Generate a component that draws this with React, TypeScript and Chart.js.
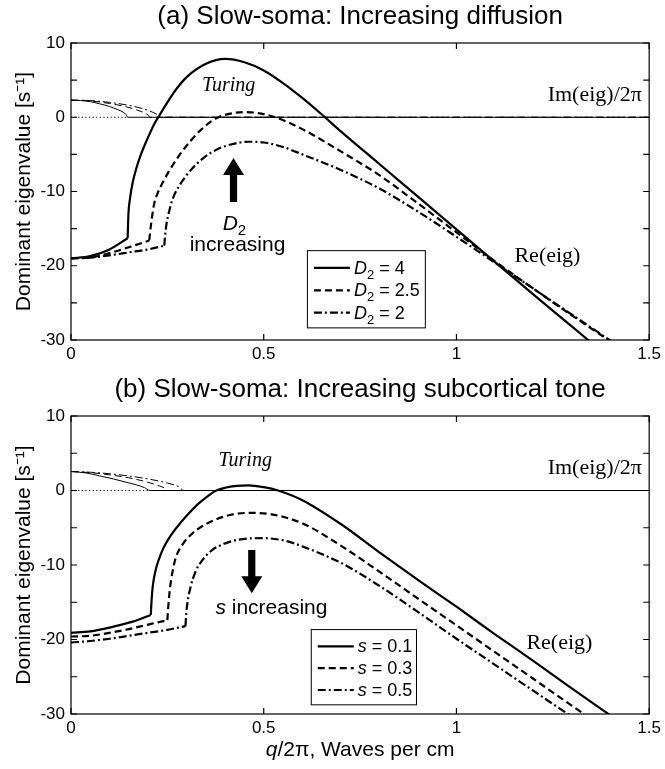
import React, { useEffect, useRef } from "react";
import { Chart, registerables } from "chart.js";
Chart.register(...registerables);

const SANS = '"Liberation Sans", Arial, Helvetica, sans-serif';
const SERIF = '"Liberation Serif", "Times New Roman", serif';

// ---------------- Panel (a): increasing diffusion ----------------
const titleA = "(a) Slow-soma: Increasing diffusion";
const legendValsA = ["4", "2.5", "2"]; // D2 values

const reA1_q = [0, 0.05, 0.1, 0.147, 0.149, 0.153, 0.16, 0.17, 0.18, 0.19, 0.2, 0.215, 0.23, 0.25, 0.272, 0.3, 0.35, 0.4, 0.45, 0.5, 0.55, 0.6, 0.65, 0.7, 0.8, 0.9, 1.0, 1.1, 1.2, 1.3, 1.36];
const reA1_v = [-19.0, -18.7, -17.8, -16.3, -13.0, -11.0, -8.8, -6.8, -5.2, -3.9, -2.7, -1.0, 0.3, 2.0, 3.7, 5.4, 7.2, 7.85, 7.4, 6.3, 4.6, 2.6, 0.4, -1.9, -6.3, -10.7, -15.1, -19.5, -23.9, -28.2, -30.8];

const reA2_q = [0, 0.05, 0.1, 0.15, 0.203, 0.205, 0.21, 0.216, 0.225, 0.237, 0.255, 0.28, 0.31, 0.335, 0.36, 0.383, 0.41, 0.447, 0.48, 0.53, 0.6, 0.7, 0.8, 0.9, 1.0, 1.1, 1.2, 1.3, 1.4];
const reA2_v = [-19.0, -18.9, -18.3, -17.5, -16.6, -15.6, -13.5, -11.6, -10.2, -8.9, -7.2, -5.2, -3.2, -1.8, -0.7, 0.0, 0.45, 0.7, 0.6, 0.0, -1.6, -4.6, -7.8, -11.6, -15.5, -19.4, -23.1, -26.7, -30.2];

const reA3_q = [0, 0.05, 0.1, 0.15, 0.2, 0.242, 0.244, 0.248, 0.255, 0.263, 0.28, 0.297, 0.32, 0.348, 0.38, 0.42, 0.46, 0.5, 0.55, 0.6, 0.7, 0.8, 0.9, 1.0, 1.1, 1.2, 1.3, 1.4];
const reA3_v = [-19.0, -18.9, -18.6, -18.2, -17.8, -17.3, -16.0, -14.3, -12.6, -11.1, -9.3, -8.0, -6.6, -5.3, -4.3, -3.6, -3.3, -3.4, -4.0, -5.0, -7.1, -9.6, -12.7, -16.1, -19.6, -23.1, -26.6, -30.1];

// q where each Re(eig) branch switches (kink)
const cornerA = [0.147, 0.203, 0.242];

const imA1_q = [0, 0.025, 0.05, 0.075, 0.1, 0.12, 0.135, 0.143, 0.147, 1.5];
const imA1_v = [2.3, 2.25, 2.1, 1.8, 1.45, 1.05, 0.7, 0.35, 0, 0];
const imA2_q = [0, 0.05, 0.1, 0.14, 0.17, 0.19, 0.2, 0.205, 1.5];
const imA2_v = [2.3, 2.2, 1.85, 1.45, 1.0, 0.6, 0.3, 0, 0];
const imA3_q = [0, 0.05, 0.1, 0.15, 0.19, 0.215, 0.228, 0.232, 1.5];
const imA3_v = [2.3, 2.25, 2.0, 1.6, 1.1, 0.6, 0.2, 0, 0];
const dottedA_q = [0, 0.147];

// ---------------- Panel (b): increasing subcortical tone ----------------
const titleB = "(b) Slow-soma: Increasing subcortical tone";
const legendValsB = ["0.1", "0.3", "0.5"]; // s values

const reB1_q = [0, 0.05, 0.1, 0.16, 0.207, 0.209, 0.212, 0.22, 0.229, 0.24, 0.252, 0.265, 0.28, 0.3, 0.33, 0.355, 0.375, 0.4, 0.43, 0.46, 0.5, 0.537, 0.6, 0.7, 0.8, 0.9, 1.0, 1.1, 1.2, 1.3, 1.4];
const reB1_v = [-19.1, -18.9, -18.4, -17.6, -16.7, -14.8, -12.9, -10.6, -9.1, -7.7, -6.6, -5.6, -4.6, -3.4, -1.8, -0.75, -0.05, 0.37, 0.62, 0.7, 0.45, 0.0, -1.3, -4.5, -8.3, -12.0, -15.6, -19.3, -22.9, -26.6, -30.2];

const reB2_q = [0, 0.05, 0.1, 0.15, 0.2, 0.25, 0.252, 0.256, 0.263, 0.272, 0.29, 0.314, 0.34, 0.375, 0.42, 0.469, 0.52, 0.6, 0.7, 0.8, 0.9, 1.0, 1.1, 1.2, 1.3, 1.35];
const reB2_v = [-19.6, -19.5, -19.1, -18.6, -18.0, -17.4, -15.8, -13.5, -11.0, -9.0, -7.2, -5.8, -4.8, -3.9, -3.2, -3.0, -3.2, -4.4, -7.4, -10.9, -14.5, -18.1, -21.7, -25.3, -28.9, -30.7];

const reB3_q = [0, 0.05, 0.1, 0.15, 0.2, 0.25, 0.297, 0.299, 0.302, 0.31, 0.323, 0.34, 0.366, 0.4, 0.434, 0.5, 0.56, 0.6, 0.7, 0.8, 0.9, 1.0, 1.1, 1.2, 1.3];
const reB3_v = [-20.4, -20.2, -19.9, -19.5, -19.1, -18.7, -18.2, -16.5, -15.1, -13.0, -10.9, -9.4, -8.0, -7.1, -6.6, -6.4, -6.8, -7.5, -9.7, -12.8, -16.3, -19.9, -23.4, -26.9, -30.4];

const cornerB = [0.207, 0.25, 0.297];

const imB1_q = [0, 0.04, 0.075, 0.11, 0.14, 0.17, 0.19, 0.205, 1.5];
const imB1_v = [2.55, 2.35, 1.95, 1.55, 1.15, 0.75, 0.4, 0, 0];
const imB2_q = [0, 0.05, 0.1, 0.15, 0.2, 0.23, 0.245, 0.25, 1.5];
const imB2_v = [2.55, 2.4, 2.1, 1.7, 1.1, 0.6, 0.25, 0, 0];
const imB3_q = [0, 0.05, 0.1, 0.15, 0.2, 0.25, 0.28, 0.293, 1.5];
const imB3_v = [2.55, 2.45, 2.25, 1.95, 1.55, 1.0, 0.5, 0, 0];
const dottedB_q = [0, 0.205];

// axis
const xMin = 0, xMax = 1.5, xStep = 0.5;
const yMin = -30, yMax = 10, yStep = 5, yLabelStep = 10;
const yTitle = "Dominant eigenvalue [s\u207B\u00B9]";

// ---------------- styles ----------------
const DASHES = [[], [7, 4], [8, 3, 2, 3]];

function pts(q: number[], v: number[]) {
  return q.map((x, i) => ({ x, y: v[i] }));
}

function buildDatasets(re: [number[], number[]][], corners: number[], im: [number[], number[]][], dotted: number[]) {
  const ds: any[] = [];
  re.forEach(([q, v], i) => {
    const all = pts(q, v);
    const k = q.findIndex((x) => x >= corners[i] - 1e-9);
    const parts = [all.slice(0, k + 1), all.slice(k)];
    parts.forEach((data) => ds.push({
      data, borderColor: "#000", borderWidth: 2.2, borderDash: DASHES[i],
      pointRadius: 0, cubicInterpolationMode: "monotone", fill: false,
    }));
  });
  im.forEach(([q, v], i) => ds.push({
    data: pts(q, v), borderColor: "#000", borderWidth: 1, borderDash: DASHES[i],
    pointRadius: 0, cubicInterpolationMode: "monotone", fill: false,
  }));
  ds.push({
    data: pts(dotted, dotted.map(() => 0)), borderColor: "#000", borderWidth: 1,
    borderDash: [1.2, 2.4], pointRadius: 0, fill: false,
  });
  return ds;
}

type Decor = {
  title: string;
  titleY: number;
  legendVals: string[];
  legendSym: string;
  legendSub: boolean;
  legendBox: [number, number, number, number]; // q0,q1,v0,v1
  turing: [number, number];
  imLabel: [number, number];
  reLabel: [number, number];
  arrow: [number, number, number];
  arrowText: "D" | "s";
  arrowTextPos: [number, number];
  arrowTextPos2?: [number, number];
  xTitleY?: number;
};

function runsWidth(ctx: CanvasRenderingContext2D, runs: { t: string; f: string; dy: number }[]) {
  let w = 0;
  runs.forEach((r) => { ctx.font = r.f; w += ctx.measureText(r.t).width; });
  return w;
}
function drawRuns(ctx: CanvasRenderingContext2D, x: number, y: number, runs: { t: string; f: string; dy: number }[]) {
  let cx = x;
  runs.forEach((r) => {
    ctx.font = r.f;
    ctx.fillText(r.t, cx, y + r.dy);
    cx += ctx.measureText(r.t).width;
  });
}

function drawArrow(ctx: CanvasRenderingContext2D, x: number, yTail: number, yTip: number) {
  const dir = yTip < yTail ? -1 : 1;
  const headLen = 17, headW = 10.5, shaftW = 3.6;
  const yBase = yTip - dir * headLen;
  ctx.beginPath();
  ctx.moveTo(x - shaftW, yTail);
  ctx.lineTo(x - shaftW, yBase);
  ctx.lineTo(x - headW, yBase);
  ctx.lineTo(x, yTip);
  ctx.lineTo(x + headW, yBase);
  ctx.lineTo(x + shaftW, yBase);
  ctx.lineTo(x + shaftW, yTail);
  ctx.closePath();
  ctx.fill();
}

function makeDecor(d: Decor) {
  return {
    id: "decor",
    afterDatasetsDraw(chart: any) {
      const { ctx, chartArea: a, scales } = chart;
      const X = (v: number) => scales.x.getPixelForValue(v);
      const Y = (v: number) => scales.y.getPixelForValue(v);
      ctx.save();
      ctx.fillStyle = "#000";
      ctx.strokeStyle = "#000";
      // frame
      ctx.lineWidth = 1.2;
      ctx.setLineDash([]);
      ctx.strokeRect(a.left, a.top, a.right - a.left, a.bottom - a.top);
      const L = 6;
      ctx.beginPath();
      scales.y.ticks.forEach((t: any) => {
        const py = Y(t.value);
        ctx.moveTo(a.left, py); ctx.lineTo(a.left + L, py);
        ctx.moveTo(a.right, py); ctx.lineTo(a.right - L, py);
      });
      scales.x.ticks.forEach((t: any) => {
        const px = X(t.value);
        ctx.moveTo(px, a.bottom); ctx.lineTo(px, a.bottom - L);
        ctx.moveTo(px, a.top); ctx.lineTo(px, a.top + L);
      });
      ctx.stroke();

      // title
      ctx.textAlign = "center";
      ctx.textBaseline = "middle";
      ctx.font = `26px ${SANS}`;
      ctx.fillText(d.title, (a.left + a.right) / 2, d.titleY);

      // serif labels
      ctx.font = `italic 20px ${SERIF}`;
      ctx.fillText("Turing", X(d.turing[0]), Y(d.turing[1]));
      ctx.font = `22px ${SERIF}`;
      ctx.textAlign = "right";
      ctx.fillText("Im(eig)/2\u03C0", X(d.imLabel[0]), Y(d.imLabel[1]));
      ctx.textAlign = "center";
      ctx.fillText("Re(eig)", X(d.reLabel[0]), Y(d.reLabel[1]));

      // arrow
      drawArrow(ctx, X(d.arrow[0]), Y(d.arrow[1]), Y(d.arrow[2]));
      ctx.textAlign = "left";
      ctx.textBaseline = "alphabetic";
      if (d.arrowText === "D") {
        const runs = [
          { t: "D", f: `italic 21px ${SANS}`, dy: 0 },
          { t: "2", f: `15px ${SANS}`, dy: 5 },
        ];
        const w = runsWidth(ctx, runs);
        drawRuns(ctx, X(d.arrowTextPos[0]) - w / 2, Y(d.arrowTextPos[1]) + 7, runs);
        const p2 = d.arrowTextPos2!;
        ctx.font = `21px ${SANS}`;
        ctx.textAlign = "center";
        ctx.textBaseline = "middle";
        ctx.fillText("increasing", X(p2[0]), Y(p2[1]));
      } else {
        const runs = [
          { t: "s", f: `italic 21px ${SANS}`, dy: 0 },
          { t: " increasing", f: `21px ${SANS}`, dy: 0 },
        ];
        const w = runsWidth(ctx, runs);
        drawRuns(ctx, X(d.arrowTextPos[0]) - w / 2, Y(d.arrowTextPos[1]) + 7, runs);
      }

      // legend
      const bx0 = X(d.legendBox[0]), bx1 = X(d.legendBox[1]);
      const by0 = Y(d.legendBox[2]), by1 = Y(d.legendBox[3]);
      ctx.fillStyle = "#fff";
      ctx.fillRect(bx0, by0, bx1 - bx0, by1 - by0);
      ctx.fillStyle = "#000";
      ctx.lineWidth = 1;
      ctx.setLineDash([]);
      ctx.strokeRect(bx0 + 0.5, by0 + 0.5, bx1 - bx0, by1 - by0);
      const fr = [0.23, 0.52, 0.81];
      d.legendVals.forEach((val, i) => {
        const ry = by0 + (by1 - by0) * fr[i];
        ctx.lineWidth = 2.2;
        ctx.setLineDash(DASHES[i]);
        ctx.beginPath();
        ctx.moveTo(bx0 + 7, ry);
        ctx.lineTo(bx0 + 43, ry);
        ctx.stroke();
        ctx.setLineDash([]);
        ctx.textAlign = "left";
        ctx.textBaseline = "alphabetic";
        const runs = d.legendSub
          ? [
              { t: d.legendSym, f: `italic 18px ${SANS}`, dy: 0 },
              { t: "2", f: `13px ${SANS}`, dy: 5 },
              { t: " = " + val, f: `18px ${SANS}`, dy: 0 },
            ]
          : [
              { t: d.legendSym, f: `italic 18px ${SANS}`, dy: 0 },
              { t: " = " + val, f: `18px ${SANS}`, dy: 0 },
            ];
        drawRuns(ctx, bx0 + 47, ry + 6, runs);
      });

      // x title
      if (d.xTitleY !== undefined) {
        const runs = [
          { t: "q", f: `italic 21px ${SANS}`, dy: 0 },
          { t: "/2\u03C0, Waves per cm", f: `21px ${SANS}`, dy: 0 },
        ];
        const w = runsWidth(ctx, runs);
        ctx.textAlign = "left";
        ctx.textBaseline = "middle";
        drawRuns(ctx, (a.left + a.right) / 2 - w / 2, d.xTitleY, runs);
      }
      ctx.restore();
    },
  };
}

function makeOptions(xScaleHeight: number): any {
  return {
    responsive: false,
    animation: false,
    layout: { padding: { top: 43, left: 0, right: 11, bottom: 0 } },
    plugins: { legend: { display: false }, title: { display: false }, tooltip: { enabled: false } },
    scales: {
      x: {
        type: "linear", min: xMin, max: xMax,
        grid: { display: false, drawTicks: false },
        border: { display: false },
        ticks: {
          stepSize: xStep, padding: 4, color: "#000",
          font: { family: SANS, size: 17 },
          callback: (v: number) => String(v),
        },
        afterFit: (s: any) => { s.height = xScaleHeight; },
      },
      y: {
        type: "linear", min: yMin, max: yMax,
        grid: { display: false, drawTicks: false },
        border: { display: false },
        ticks: {
          stepSize: yStep, padding: 6, color: "#000",
          font: { family: SANS, size: 17 },
          callback: (v: number) => (v % yLabelStep === 0 ? String(v) : ""),
        },
        title: {
          display: true, text: yTitle, color: "#000",
          font: { family: SANS, size: 21 }, padding: { top: 12, bottom: 0 },
        },
        afterFit: (s: any) => { s.width = 71; },
      },
    },
  };
}

const decorA: Decor = {
  title: titleA, titleY: 17,
  legendVals: legendValsA, legendSym: "D", legendSub: true,
  legendBox: [0.612, 0.918, -17.9, -28.3],
  turing: [0.409, 4.2],
  imLabel: [1.481, 3.0],
  reLabel: [1.236, -18.75],
  arrow: [0.4216, -11.4, -5.5],
  arrowText: "D",
  arrowTextPos: [0.424, -14.2],
  arrowTextPos2: [0.432, -17.2],
};

const decorB: Decor = {
  title: titleB, titleY: 17,
  legendVals: legendValsB, legendSym: "s", legendSub: false,
  legendBox: [0.622, 0.895, -18.6, -28.7],
  turing: [0.452, 3.96],
  imLabel: [1.481, 3.0],
  reLabel: [1.267, -20.5],
  arrow: [0.469, -8.0, -13.8],
  arrowText: "s",
  arrowTextPos: [0.52, -15.6],
  xTitleY: 377,
};

function Panel(props: { top: number; height: number; datasets: any[]; decor: Decor; xScaleHeight: number }) {
  const ref = useRef<HTMLCanvasElement | null>(null);
  useEffect(() => {
    if (!ref.current) return;
    const chart = new Chart(ref.current, {
      type: "line",
      data: { datasets: props.datasets },
      options: makeOptions(props.xScaleHeight),
      plugins: [makeDecor(props.decor)],
    } as any);
    return () => chart.destroy();
  }, []);
  return (
    <canvas
      ref={ref}
      width={665}
      height={props.height}
      style={{ position: "absolute", left: 0, top: props.top, width: 665, height: props.height }}
    />
  );
}

export default function App() {
  const dsA = buildDatasets(
    [[reA1_q, reA1_v], [reA2_q, reA2_v], [reA3_q, reA3_v]],
    cornerA,
    [[imA1_q, imA1_v], [imA2_q, imA2_v], [imA3_q, imA3_v]],
    dottedA_q
  );
  const dsB = buildDatasets(
    [[reB1_q, reB1_v], [reB2_q, reB2_v], [reB3_q, reB3_v]],
    cornerB,
    [[imB1_q, imB1_v], [imB2_q, imB2_v], [imB3_q, imB3_v]],
    dottedB_q
  );
  return (
    <div style={{ position: "absolute", left: 0, top: 0, width: 665, height: 769, background: "#fff" }}>
      <Panel top={0} height={373} datasets={dsA} decor={decorA} xScaleHeight={33} />
      <Panel top={373} height={396} datasets={dsB} decor={decorB} xScaleHeight={55} />
    </div>
  );
}
